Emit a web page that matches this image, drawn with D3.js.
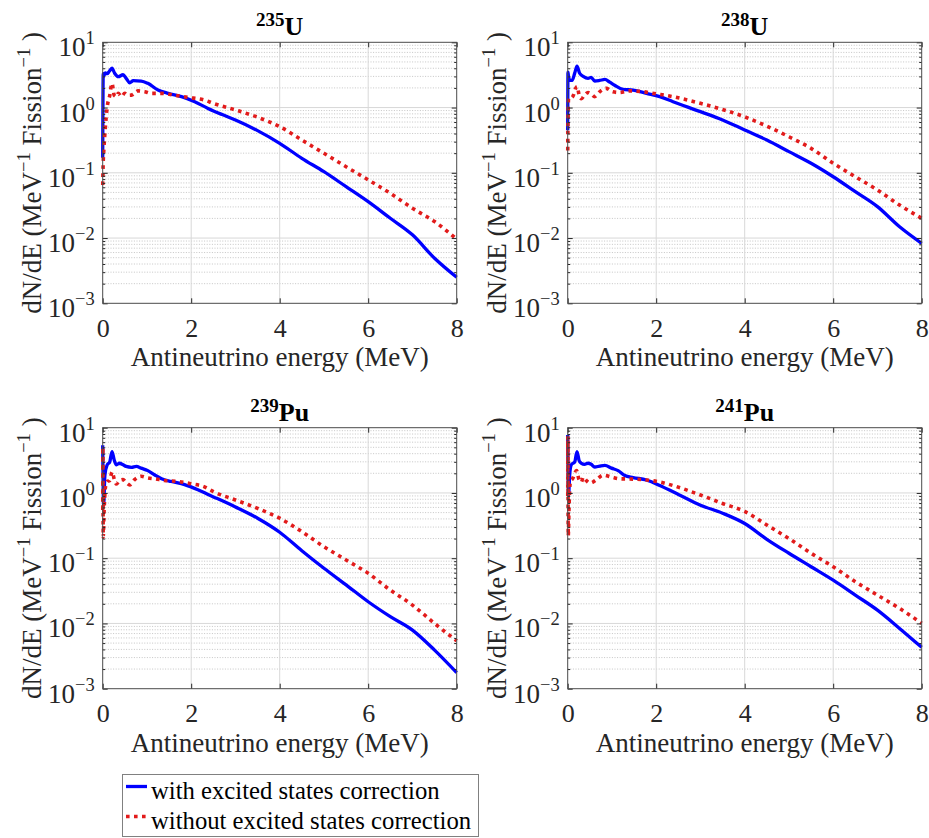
<!DOCTYPE html>
<html>
<head>
<meta charset="utf-8">
<script src="https://cdn.jsdelivr.net/npm/d3@7"></script>
<style>
  html, body { margin: 0; padding: 0; background: #ffffff; }
  svg { display: block; }
</style>
</head>
<body>
<svg id="fig" width="929" height="838"></svg>
<script>
// Antineutrino spectra per fission, with and without the excited-states correction.

const massNumbers = ["235", "238", "239", "241"];
const elements = ["U", "U", "Pu", "Pu"];
const xTicks = [0, 2, 4, 6, 8];
const yDecades = [-3, -2, -1, 0, 1];
const legendLabels = ["with excited states correction", "without excited states correction"];

// 235U
const eWithU235 = [0, 0.012, 0.03, 0.06, 0.1, 0.15, 0.21, 0.27, 0.35, 0.46, 0.53, 0.61, 0.69, 0.87, 1.02, 1.25, 1.48, 1.78, 2.08, 2.38, 2.7, 3, 3.5, 4, 4.5, 5, 5.5, 6, 6.5, 7, 7.5, 8];
const nWithU235 = [0.17, 3.3, 3.1, 3.4, 3.3, 3.6, 4.0, 3.35, 2.97, 3.18, 2.8, 2.4, 2.58, 2.55, 2.35, 1.86, 1.65, 1.47, 1.23, 0.97, 0.78, 0.645, 0.443, 0.283, 0.167, 0.104, 0.0614, 0.0361, 0.0201, 0.0112, 0.0049, 0.0025];
const eWithoutU235 = [0, 0.008, 0.03, 0.06, 0.1, 0.16, 0.21, 0.26, 0.31, 0.35, 0.42, 0.5, 0.57, 0.65, 0.8, 0.95, 1.1, 1.33, 1.63, 1.93, 2.3, 2.5, 3, 3.5, 4, 4.5, 5, 5.5, 6, 6.5, 7, 7.5, 8];
const nWithoutU235 = [0.065, 0.12, 0.25, 0.5, 1.0, 1.54, 2.35, 1.54, 1.47, 1.65, 1.47, 1.65, 1.54, 1.55, 1.8, 1.75, 1.65, 1.65, 1.54, 1.43, 1.3, 1.16, 0.92, 0.71, 0.51, 0.318, 0.199, 0.124, 0.078, 0.0485, 0.0286, 0.0179, 0.0096];

// 238U
const eWithU238 = [0, 0.006, 0.015, 0.05, 0.1, 0.16, 0.21, 0.27, 0.35, 0.46, 0.53, 0.61, 0.72, 0.84, 0.95, 1.06, 1.25, 1.48, 1.78, 2.08, 2.38, 3, 3.5, 4, 4.5, 5, 5.5, 6, 6.5, 7, 7.5, 8];
const nWithU238 = [0.45, 3.5, 3.1, 2.6, 2.6, 3.4, 4.3, 3.35, 3.0, 2.8, 2.9, 2.55, 2.6, 2.7, 2.45, 2.2, 1.9, 1.85, 1.65, 1.47, 1.23, 0.865, 0.645, 0.453, 0.318, 0.211, 0.14, 0.087, 0.0514, 0.0303, 0.0149, 0.0083];
const eWithoutU238 = [0, 0.004, 0.01, 0.02, 0.05, 0.12, 0.18, 0.21, 0.27, 0.31, 0.38, 0.46, 0.53, 0.61, 0.72, 0.87, 1.02, 1.17, 1.4, 1.7, 2.0, 2.3, 3, 4, 5, 5.5, 6, 6.5, 7, 7.5, 8];
const nWithoutU238 = [0.22, 0.45, 0.9, 1.37, 1.37, 1.5, 1.97, 2.1, 1.45, 1.37, 1.55, 1.7, 1.62, 1.47, 1.74, 1.97, 1.74, 1.7, 1.8, 1.75, 1.62, 1.5, 1.16, 0.72, 0.357, 0.237, 0.14, 0.087, 0.0545, 0.032, 0.0201];

// 239Pu
const eWithPu239 = [0, 0.02, 0.05, 0.1, 0.16, 0.21, 0.26, 0.31, 0.38, 0.46, 0.53, 0.65, 0.76, 0.87, 1.02, 1.17, 1.33, 1.55, 1.85, 2.15, 2.38, 3, 3.5, 4, 4.5, 5, 5.5, 6, 6.5, 7, 7.5, 8];
const nWithPu239 = [5.4, 0.65, 1.88, 2.68, 3.0, 4.3, 3.2, 2.7, 2.85, 2.7, 2.55, 2.47, 2.55, 2.4, 2.2, 1.9, 1.65, 1.5, 1.34, 1.12, 0.95, 0.61, 0.41, 0.25, 0.13, 0.07, 0.039, 0.0215, 0.0127, 0.0079, 0.0039, 0.00176];
const eWithoutPu239 = [0, 0.004, 0.012, 0.03, 0.06, 0.1, 0.16, 0.21, 0.27, 0.31, 0.38, 0.46, 0.53, 0.61, 0.72, 0.87, 1.02, 1.17, 1.4, 1.7, 2.0, 2.3, 2.5, 3, 3.5, 4, 4.5, 5, 5.5, 6, 6.5, 7, 7.5, 8];
const nWithoutPu239 = [0.55, 5.0, 0.21, 0.5, 1.2, 1.5, 1.55, 2.1, 1.55, 1.37, 1.55, 1.6, 1.45, 1.33, 1.6, 1.8, 1.7, 1.65, 1.55, 1.5, 1.38, 1.24, 1.05, 0.78, 0.58, 0.41, 0.255, 0.15, 0.094, 0.0586, 0.0325, 0.0191, 0.0100, 0.0054];

// 241Pu
const eWithPu241 = [0, 0.02, 0.045, 0.08, 0.16, 0.21, 0.26, 0.31, 0.38, 0.46, 0.53, 0.61, 0.72, 0.84, 0.99, 1.14, 1.29, 1.48, 1.78, 2.08, 2.38, 2.5, 3, 3.5, 4, 4.5, 5, 5.5, 6, 6.5, 7, 7.5, 8];
const nWithPu241 = [7.7, 0.93, 1.9, 2.7, 3.0, 4.3, 3.1, 2.85, 2.75, 2.85, 2.75, 2.5, 2.58, 2.65, 2.4, 2.2, 1.85, 1.72, 1.58, 1.3, 1.04, 0.95, 0.65, 0.49, 0.34, 0.195, 0.119, 0.074, 0.046, 0.0272, 0.016, 0.0084, 0.0043];
const eWithoutPu241 = [0, 0.004, 0.012, 0.03, 0.06, 0.11, 0.2, 0.25, 0.31, 0.35, 0.42, 0.5, 0.57, 0.65, 0.8, 0.99, 1.17, 1.48, 1.78, 2.08, 2.38, 3, 3.5, 4, 4.5, 5, 5.5, 6, 6.5, 7, 7.5, 8];
const nWithoutPu241 = [0.9, 7.4, 0.22, 0.6, 1.5, 1.65, 2.2, 1.65, 1.47, 1.75, 1.55, 1.42, 1.47, 1.6, 1.87, 1.75, 1.65, 1.63, 1.58, 1.47, 1.3, 0.93, 0.69, 0.52, 0.323, 0.2, 0.119, 0.074, 0.0436, 0.0272, 0.017, 0.0101];

const panels = [
  { mass: massNumbers[0], el: elements[0], withE: eWithU235,  withN: nWithU235,  woE: eWithoutU235,  woN: nWithoutU235 },
  { mass: massNumbers[1], el: elements[1], withE: eWithU238,  withN: nWithU238,  woE: eWithoutU238,  woN: nWithoutU238 },
  { mass: massNumbers[2], el: elements[2], withE: eWithPu239, withN: nWithPu239, woE: eWithoutPu239, woN: nWithoutPu239 },
  { mass: massNumbers[3], el: elements[3], withE: eWithPu241, withN: nWithPu241, woE: eWithoutPu241, woN: nWithoutPu241 }
];

const FONT = '"Liberation Serif", "Times New Roman", Times, serif';
const INK = "#262626";
const BLUE = "#0000ff";
const RED = "#e21b1b";
const W = 354, H = 261;
const origins = [[102.7, 42.3], [567.7, 42.3], [102.7, 427.7], [567.7, 427.7]];

const svg = d3.select("#fig").attr("font-family", FONT);

const minorVals = [];
for (let d = -3; d < 1; d++) for (let k = 2; k <= 9; k++) minorVals.push(k * Math.pow(10, d));
const decadeVals = yDecades.map(k => Math.pow(10, k));

panels.forEach((p, i) => {
  const [ox, oy] = origins[i];
  const g = svg.append("g").attr("transform", `translate(${ox},${oy})`);
  const x = d3.scaleLinear().domain([0, 8]).range([0, W]);
  const y = d3.scaleLog().domain([1e-3, 10]).range([H, 0]);

  g.append("rect").attr("width", W).attr("height", H).attr("fill", "#ffffff");

  // minor y grid (dotted)
  g.append("g").selectAll("line").data(minorVals).join("line")
    .attr("x1", 0).attr("x2", W)
    .attr("y1", d => y(d)).attr("y2", d => y(d))
    .attr("stroke", "#b8b8b8").attr("stroke-width", 0.8)
    .attr("stroke-dasharray", "1 1.6");

  // major grid
  g.append("g").selectAll("line").data(decadeVals.slice(1, -1)).join("line")
    .attr("x1", 0).attr("x2", W)
    .attr("y1", d => y(d)).attr("y2", d => y(d))
    .attr("stroke", "#d8d8d8").attr("stroke-width", 1);
  g.append("g").selectAll("line").data(xTicks.slice(1, -1)).join("line")
    .attr("x1", d => x(d)).attr("x2", d => x(d))
    .attr("y1", 0).attr("y2", H)
    .attr("stroke", "#d8d8d8").attr("stroke-width", 1);

  // spectra
  const clipId = "plotclip" + i;
  g.append("clipPath").attr("id", clipId)
    .append("rect").attr("x", -2).attr("y", -2).attr("width", W + 4).attr("height", H + 4);
  const line = d3.line().x(d => x(d[0])).y(d => y(d[1])).curve(d3.curveMonotoneX);
  const curves = g.append("g").attr("clip-path", `url(#${clipId})`);
  curves.append("path")
    .attr("d", line(d3.zip(p.withE, p.withN)))
    .attr("fill", "none").attr("stroke", BLUE).attr("stroke-width", 3.3)
    .attr("stroke-linejoin", "round");
  curves.append("path")
    .attr("d", line(d3.zip(p.woE, p.woN)))
    .attr("fill", "none").attr("stroke", RED).attr("stroke-width", 3.6)
    .attr("stroke-dasharray", "3.6 4.4");

  // axes with inward ticks on all four sides
  const styleAxis = sel => {
    sel.select(".domain").remove();
    sel.selectAll(".tick line").attr("stroke", INK);
  };
  g.append("g").attr("transform", `translate(0,${H})`)
    .call(d3.axisBottom(x).tickValues(xTicks).tickSize(-5).tickPadding(15).tickFormat(d3.format("d")))
    .call(styleAxis)
    .call(a => a.selectAll(".tick text").attr("font-family", FONT).attr("font-size", 26).attr("fill", INK));
  g.append("g")
    .call(d3.axisTop(x).tickValues(xTicks).tickSize(-5).tickFormat(() => ""))
    .call(styleAxis);
  g.append("g")
    .call(d3.axisLeft(y).tickValues(decadeVals).tickSize(-5).tickFormat(() => ""))
    .call(styleAxis);
  g.append("g")
    .call(d3.axisLeft(y).tickValues(minorVals).tickSize(-2.5).tickFormat(() => ""))
    .call(styleAxis);
  g.append("g").attr("transform", `translate(${W},0)`)
    .call(d3.axisRight(y).tickValues(decadeVals).tickSize(-5).tickFormat(() => ""))
    .call(styleAxis);
  g.append("g").attr("transform", `translate(${W},0)`)
    .call(d3.axisRight(y).tickValues(minorVals).tickSize(-2.5).tickFormat(() => ""))
    .call(styleAxis);

  // decade labels 10^k
  yDecades.forEach(k => {
    const t = g.append("text")
      .attr("x", -8).attr("y", y(Math.pow(10, k)) + 14)
      .attr("text-anchor", "end").attr("font-size", 27).attr("fill", INK);
    t.append("tspan").text("10");
    t.append("tspan").attr("font-size", 18.5).attr("dy", -12).text(k < 0 ? "\u2212" + (-k) : String(k));
  });

  // box
  g.append("rect").attr("width", W).attr("height", H)
    .attr("fill", "none").attr("stroke", "#4a4a4a").attr("stroke-width", 1);

  // title
  const tt = g.append("text").attr("x", W / 2).attr("y", -7)
    .attr("text-anchor", "middle").attr("font-weight", "bold").attr("fill", "#000");
  tt.append("tspan").attr("font-size", 19).attr("dy", -9).text(p.mass);
  tt.append("tspan").attr("font-size", 26).attr("dy", 9).text(p.el);

  // x label
  g.append("text").attr("x", W / 2).attr("y", H + 63)
    .attr("text-anchor", "middle").attr("font-size", 27).attr("fill", INK)
    .text("Antineutrino energy (MeV)");

  // y label
  const yt = g.append("text")
    .attr("transform", `translate(-62,${H / 2}) rotate(-90)`)
    .attr("text-anchor", "middle").attr("font-size", 27).attr("fill", INK);
  yt.append("tspan").text("dN/dE (MeV");
  yt.append("tspan").attr("font-size", 18.5).attr("dy", -11).text("\u22121");
  yt.append("tspan").attr("dy", 11).text(" Fission");
  yt.append("tspan").attr("font-size", 18.5).attr("dy", -11).text("\u22121");
  yt.append("tspan").attr("dy", 11).text(" )");
});

// legend
const lg = svg.append("g");
lg.append("rect").attr("x", 122.5).attr("y", 774.5).attr("width", 356).attr("height", 62)
  .attr("fill", "#ffffff").attr("stroke", "#808080").attr("stroke-width", 1);
const legendStyles = [
  { color: BLUE, width: 3.3, dash: null, ly: 786.5, ty: 799 },
  { color: RED, width: 3.6, dash: "3.6 4.4", ly: 816.5, ty: 829 }
];
legendLabels.forEach((label, i) => {
  const s = legendStyles[i];
  lg.append("line").attr("x1", 126).attr("x2", 147).attr("y1", s.ly).attr("y2", s.ly)
    .attr("stroke", s.color).attr("stroke-width", s.width)
    .attr("stroke-dasharray", s.dash);
  lg.append("text").attr("x", 151).attr("y", s.ty)
    .attr("font-size", 24.7).attr("fill", "#000").text(label);
});
</script>
</body>
</html>
